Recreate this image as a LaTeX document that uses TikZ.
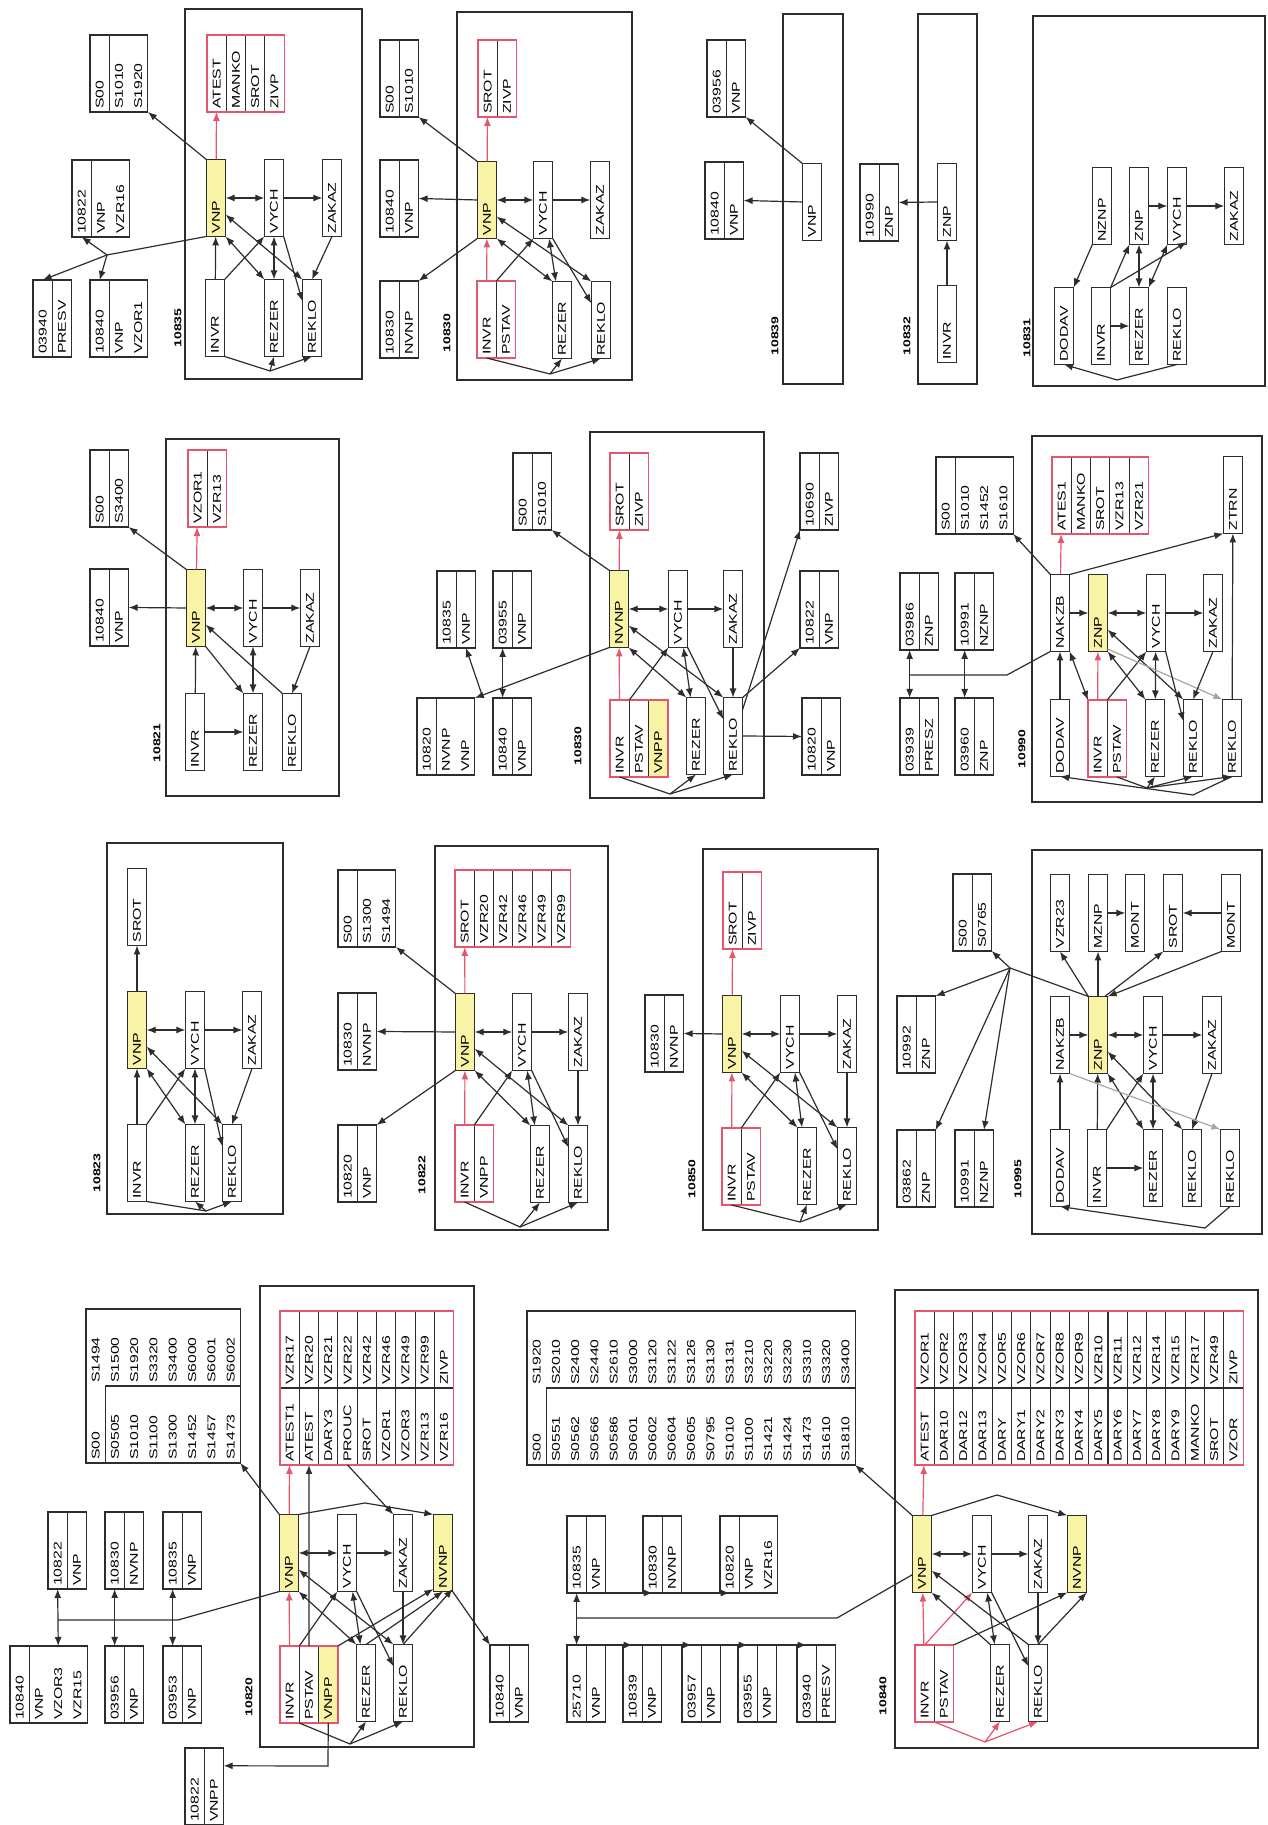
\documentclass[tikz,border=0pt]{standalone}
\usepackage{fontspec}
\setmainfont{Liberation Sans}[FakeStretch=1.4]
\usetikzlibrary{arrows.meta,positioning}

\definecolor{ink}{RGB}{45,45,45}
\definecolor{rd}{RGB}{230,84,110}
\definecolor{hl}{RGB}{248,243,165}
\newcommand\boxfont{\fontsize{11.3}{19.3}\selectfont}
\newcommand\numfont{\fontsize{10}{12}\selectfont\bfseries}

\tikzset{
  cell/.style={draw=ink, line width=1.1pt, fill=white, outer sep=0pt, inner xsep=3pt,
    inner ysep=0pt, text width=71pt, minimum height=19.3pt, align=left, font=\boxfont},
  yel/.style={cell, fill=hl},
  nrows/.style={minimum height=#1*19.3pt},
  redframe/.style={draw=rd, line width=1.2pt},
  stab/.style={draw=ink, line width=1.1pt, outer sep=0pt, inner sep=0pt},
  txt/.style={inner xsep=3pt, inner ysep=0pt, text width=71pt, align=left, font=\boxfont},
  pane/.style={draw=ink, line width=2.8pt},
  num/.style={font=\numfont, inner sep=0pt},
  ln/.style={draw=ink, line width=1.2pt},
  rln/.style={draw=rd, line width=1.2pt},
  arr/.style={ln, -{Latex[length=9pt,width=7pt]}},
  darr/.style={ln, {Latex[length=9pt,width=7pt]}-{Latex[length=9pt,width=7pt]}},
  rarr/.style={rln, -{Latex[length=9pt,width=7pt]}},
}

\begin{document}
\begin{tikzpicture}[x=1pt,y=1pt]
\fill[white] (0,0) rectangle (1268,1825);
\useasboundingbox (0,0) rectangle (1268,1825);
\begin{scope}[rotate=90,transform shape]

% ===== 10835 =====
\draw[pane] (1446,-362) rectangle (1816,-185);
\node[num] (l35) at (1497,-178) {10835};
\node[yel]  (vnp35)  at (1627,-216) {VNP};
\node[cell] (vych35) at (1627,-274) {VYCH};
\node[cell] (zak35)  at (1627,-332) {ZAKAZ};
\node[cell] (invr35) at (1507,-215) {INVR};
\node[cell] (rez35)  at (1507,-274) {REZER};
\node[cell] (rek35)  at (1507,-312) {REKLO};
\foreach \w [count=\i] in {ATEST,MANKO,SROT,ZIVP}
  \node[cell] (t35-\i) at (1751.5,{-207-(\i-0.5)*19.3}) {\w};
\draw[redframe] (t35-1.north west) rectangle (t35-4.south east);
\node[cell,anchor=north west] (s35) at (1713,-90) {S00};
\node[cell,nrows=2,below=0pt of s35] (s35-b) {S1010\\S1920};
\node[cell,anchor=north west] (r35a) at (1588,-72) {10822};
\node[cell,nrows=2,below=0pt of r35a] (r35a-b) {VNP\\VZR16};
\node[cell,anchor=north west] (r35b) at (1468,-33) {03940};
\node[cell,below=0pt of r35b] (r35b-b) {PRESV};
\node[cell,anchor=north west] (r35c) at (1468,-90) {10840};
\node[cell,nrows=2,below=0pt of r35c] (r35c-b) {VNP\\VZOR1};
\coordinate (j35) at (1570,-107);
\coordinate (f35) at (1454,-270);
\draw[rarr] (vnp35) -- (t35-1);
\draw[arr] (vnp35.north east) -- (s35-b.south west);
\draw[arr] (vnp35.north west) -- (j35) -- (r35b.east);
\draw[arr] (j35) -- (r35a.west);
\draw[arr] (j35) -- (r35c.east);
\draw[darr] (vnp35) -- (vych35);
\draw[arr] (vych35) -- (zak35);
\draw[arr] (invr35) -- (vnp35);
\draw[arr] (invr35.south east) -- (vych35.north west);
\draw[darr] (vnp35.south west) -- (rez35.north east);
\draw[darr] (rez35) -- (vych35);
\draw[darr] (vnp35.-150) -- (rek35.north east);
\draw[arr] (vych35.south west) -- (rek35.30);
\draw[arr] (zak35.west) -- (rek35.east);
\draw[ln] (invr35.south west) -- (f35);
\draw[arr] (f35) -- (rez35.west);
\draw[arr] (f35) -- (rek35.west);

% ===== 10821 =====
\draw[pane] (1029,-339) rectangle (1386,-166);
\node[num] (l21) at (1082,-157) {10821};
\node[yel]  (vnp21)  at (1217,-196) {VNP};
\node[cell] (vych21) at (1217,-253) {VYCH};
\node[cell] (zak21)  at (1217,-310) {ZAKAZ};
\node[cell] (invr21) at (1093,-195) {INVR};
\node[cell] (rez21)  at (1093,-253) {REZER};
\node[cell] (rek21)  at (1093,-292) {REKLO};
\foreach \w [count=\i] in {VZOR1,VZR13}
  \node[cell] (t21-\i) at (1336.5,{-188-(\i-0.5)*19.3}) {\w};
\draw[redframe] (t21-1.north west) rectangle (t21-2.south east);
\node[cell,anchor=north west] (s21) at (1298,-90) {S00};
\node[cell,below=0pt of s21] (s21-b) {S3400};
\node[cell,anchor=north west] (r21a) at (1179,-90) {10840};
\node[cell,below=0pt of r21a] (r21a-b) {VNP};
\draw[rarr] (vnp21) -- (t21-1);
\draw[arr] (vnp21.north) -- (r21a-b.south);
\draw[arr] (vnp21.north east) -- (s21-b.south west);
\draw[darr] (vnp21) -- (vych21);
\draw[arr] (vych21) -- (zak21);
\draw[arr] (invr21) -- (vnp21);
\draw[arr] (invr21) -- (rez21);
\draw[arr] (vnp21.south west) -- (rez21.north east);
\draw[arr] (rek21.north east) -- (vnp21.-150);
\draw[darr] (rez21) -- (vych21);
\draw[arr] (zak21.west) -- (rek21.east);

% ===== 10823 =====
\draw[pane] (611,-283) rectangle (982,-107);
\node[num] (l23) at (652,-97) {10823};
\node[cell] (srot23) at (918,-137) {SROT};
\node[yel]  (vnp23)  at (795,-137) {VNP};
\node[cell] (vych23) at (795,-195) {VYCH};
\node[cell] (zak23)  at (795,-252) {ZAKAZ};
\node[cell] (invr23) at (662,-137) {INVR};
\node[cell] (rez23)  at (662,-195) {REZER};
\node[cell] (rek23)  at (662,-232) {REKLO};
\coordinate (f23) at (614,-206);
\draw[arr] (vnp23) -- (srot23);
\draw[darr] (vnp23) -- (vych23);
\draw[arr] (vych23) -- (zak23);
\draw[arr] (invr23) -- (vnp23);
\draw[arr] (invr23.south east) -- (vych23.north west);
\draw[darr] (vnp23.south west) -- (rez23.north east);
\draw[darr] (rez23) -- (vych23);
\draw[darr] (vnp23.-150) -- (rek23.north east);
\draw[arr] (vych23.south west) -- (rek23.30);
\draw[arr] (zak23.west) -- (rek23.east);
\draw[ln] (invr23.south west) -- (f23);
\draw[arr] (f23) -- (rez23.west);
\draw[arr] (f23) -- (rek23.west);

% ===== 10820 =====
\draw[pane] (78,-474) rectangle (539,-260);
\node[num] (l20) at (128,-249) {10820};
\foreach \w [count=\i] in {ATEST1,ATEST,DARY3,PROUC,SROT,VZOR1,VZOR3,VZR13,VZR16}
  \node[cell] (t20l-\i) at (398.5,{-280-(\i-0.5)*19.3}) {\w};
\foreach \w [count=\i] in {VZR17,VZR20,VZR21,VZR22,VZR42,VZR46,VZR49,VZR99,ZIVP}
  \node[cell] (t20r-\i) at (475.5,{-280-(\i-0.5)*19.3}) {\w};
\draw[redframe] (t20l-1.north west) rectangle (t20r-9.south east);
\node[yel]  (vnp20)  at (272,-289) {VNP};
\node[cell] (vych20) at (272,-347) {VYCH};
\node[cell] (zak20)  at (272,-403) {ZAKAZ};
\node[yel]  (nvnp20) at (272,-443) {NVNP};
\node[cell,anchor=north west] (invr20) at (102,-280) {INVR};
\node[cell,below=0pt of invr20] (pstav20) {PSTAV};
\node[yel,below=0pt of pstav20] (vnpp20) {VNPP};
\draw[redframe] (invr20.north west) rectangle (vnpp20.south east);
\node[cell] (rez20) at (142,-366) {REZER};
\node[cell] (rek20) at (142,-403) {REKLO};
\node[stab,minimum width=154pt,minimum height=154.4pt,anchor=north west] (s20) at (362,-86) {};
\foreach \w [count=\i] in {S00,S0505,S1010,S1100,S1300,S1452,S1457,S1473}
  \node[txt] (s20l-\i) at (400.5,{-86-(\i-0.5)*19.3}) {\w};
\foreach \w [count=\i] in {S1494,S1500,S1920,S3320,S3400,S6000,S6001,S6002}
  \node[txt] (s20r-\i) at (477.5,{-86-(\i-0.5)*19.3}) {\w};
\draw[ln] (362,-105.3) -- (439,-105.3) -- (439,-240.4);
\node[cell,anchor=north west] (r20a) at (102,-10) {10840};
\node[cell,nrows=3,below=0pt of r20a] (r20a-b) {VNP\\VZOR3\\VZR15};
\node[cell,anchor=north west] (r20b) at (236,-48) {10822};
\node[cell,below=0pt of r20b] (r20b-b) {VNP};
\node[cell,anchor=north west] (r20c) at (236,-105) {10830};
\node[cell,below=0pt of r20c] (r20c-b) {NVNP};
\node[cell,anchor=north west] (r20d) at (236,-163) {10835};
\node[cell,below=0pt of r20d] (r20d-b) {VNP};
\node[cell,anchor=north west] (r20e) at (102,-105) {03956};
\node[cell,below=0pt of r20e] (r20e-b) {VNP};
\node[cell,anchor=north west] (r20f) at (102,-163) {03953};
\node[cell,below=0pt of r20f] (r20f-b) {VNP};
\node[cell,anchor=north west] (r20g) at (0,-185) {10822};
\node[cell,below=0pt of r20g] (r20g-b) {VNPP};
\node[cell,anchor=north west] (r20h) at (103,-490) {10840};
\node[cell,below=0pt of r20h] (r20h-b) {VNP};
\coordinate (b20a) at (205,-58);
\coordinate (b20b) at (205,-178);
\coordinate (c20) at (59,-328);
\coordinate (p20) at (322,-365);
\coordinate (f20) at (81,-350);
\draw[rarr] (invr20) -- (vnp20);
\draw[rarr] (vnp20) -- (t20l-1);
\draw[arr] (vnp20.north east) -- (s20.south west);
\draw[ln] (vnp20.north west) -- (b20b) -- (b20a);
\draw[darr] (r20a-b.east) -- (r20b.west);
\draw[darr] (r20e.east) -- (r20c.west);
\draw[darr] (r20f.east) -- (r20d.west);
\draw[darr] (vnp20) -- (vych20);
\draw[arr] (vych20) -- (zak20);
\draw[arr] (invr20.south east) -- (vych20.north west);
\draw[darr] (vnp20.south west) -- (rez20.north east);
\draw[darr] (vnp20.-150) -- (rek20.north east);
\draw[darr] (rez20) -- (vych20);
\draw[arr] (vych20.south west) -- (rek20.30);
\draw[arr] (zak20) -- (rek20);
\draw[arr] (vnpp20.south east) -- (nvnp20.165);
\draw[arr] (rez20.east) -- (nvnp20.west);
\draw[arr] (rek20.east) -- (nvnp20.-165);
\draw[arr] (vnp20.south east) -- (p20) -- (nvnp20.north east);
\draw[arr] (t20l-4.west) -- (zak20.north east);
\draw[arr] (pstav20.east) -- (t20l-2.west);
\draw[arr] (nvnp20.south west) -- (r20h.north east);
\draw[arr] (vnpp20.west) -- (c20) -- (r20g-b.-25);
\draw[ln] (invr20.south west) -- (f20);
\draw[arr] (f20) -- (rez20.west);
\draw[arr] (f20) -- (rek20.west);

% ===== 10822 =====
\draw[pane] (595,-608) rectangle (979,-435);
\node[num] (l22) at (650,-422) {10822};
\foreach \w [count=\i] in {SROT,VZR20,VZR42,VZR46,VZR49,VZR99}
  \node[cell] (t22-\i) at (916.5,{-455-(\i-0.5)*19.3}) {\w};
\draw[redframe] (t22-1.north west) rectangle (t22-6.south east);
\node[yel]  (vnp22)  at (793,-465) {VNP};
\node[cell] (vych22) at (793,-522) {VYCH};
\node[cell] (zak22)  at (793,-578) {ZAKAZ};
\node[cell,anchor=north west] (invr22) at (623,-455) {INVR};
\node[cell,below=0pt of invr22] (vnpp22) {VNPP};
\draw[redframe] (invr22.north west) rectangle (vnpp22.south east);
\node[cell] (rez22) at (661,-540) {REZER};
\node[cell] (rek22) at (661,-578) {REKLO};
\node[cell,anchor=north west] (s22) at (878,-338) {S00};
\node[cell,nrows=2,below=0pt of s22] (s22-b) {S1300\\S1494};
\node[cell,anchor=north west] (r22a) at (755,-338) {10830};
\node[cell,below=0pt of r22a] (r22a-b) {NVNP};
\node[cell,anchor=north west] (r22b) at (623,-338) {10820};
\node[cell,below=0pt of r22b] (r22b-b) {VNP};
\coordinate (f22) at (598,-520);
\draw[rarr] (invr22) -- (vnp22);
\draw[rarr] (vnp22) -- (t22-1);
\draw[arr] (vnp22.north) -- (r22a-b.south);
\draw[arr] (vnp22.north east) -- (s22-b.south west);
\draw[arr] (vnp22.north west) -- (r22b-b.south east);
\draw[darr] (vnp22) -- (vych22);
\draw[arr] (vych22) -- (zak22);
\draw[arr] (invr22.south east) -- (vych22.north west);
\draw[darr] (vnp22.south west) -- (rez22.north east);
\draw[darr] (rez22) -- (vych22);
\draw[darr] (vnp22.-150) -- (rek22.north east);
\draw[arr] (vych22.south west) -- (rek22.30);
\draw[arr] (zak22) -- (rek22);
\draw[ln] (invr22.west) -- (f22);
\draw[arr] (f22) -- (rez22.west);
\draw[arr] (f22) -- (rek22.west);

% ===== 10830 (top) =====
\draw[pane] (1445,-632) rectangle (1813,-457);
\node[num] (l30) at (1492,-447) {10830};
\foreach \w [count=\i] in {SROT,ZIVP}
  \node[cell] (t30-\i) at (1746.5,{-478-(\i-0.5)*19.3}) {\w};
\draw[redframe] (t30-1.north west) rectangle (t30-2.south east);
\node[yel]  (vnp30)  at (1625,-487) {VNP};
\node[cell] (vych30) at (1625,-543) {VYCH};
\node[cell] (zak30)  at (1625,-600) {ZAKAZ};
\node[cell,anchor=north west] (invr30) at (1467,-477) {INVR};
\node[cell,below=0pt of invr30] (pstav30) {PSTAV};
\draw[redframe] (invr30.north west) rectangle (pstav30.south east);
\node[cell] (rez30) at (1505,-562) {REZER};
\node[cell] (rek30) at (1505,-601) {REKLO};
\node[cell,anchor=north west] (s30) at (1708,-380) {S00};
\node[cell,below=0pt of s30] (s30-b) {S1010};
\node[cell,anchor=north west] (r30a) at (1588,-380) {10840};
\node[cell,below=0pt of r30a] (r30a-b) {VNP};
\node[cell,anchor=north west] (r30b) at (1467,-380) {10830};
\node[cell,below=0pt of r30b] (r30b-b) {NVNP};
\coordinate (f30) at (1451,-550);
\draw[rarr] (invr30) -- (vnp30);
\draw[rarr] (vnp30) -- (t30-1);
\draw[arr] (vnp30.north east) -- (s30-b.south west);
\draw[arr] (vnp30.north) -- (r30a-b.south);
\draw[arr] (vnp30.north west) -- (r30b-b.south east);
\draw[darr] (vnp30) -- (vych30);
\draw[arr] (vych30) -- (zak30);
\draw[arr] (invr30.south east) -- (vych30.north west);
\draw[darr] (vnp30.south west) -- (rez30.north east);
\draw[darr] (rez30) -- (vych30);
\draw[darr] (vnp30.-150) -- (rek30.north east);
\draw[arr] (vych30.south west) -- (rek30.30);
\draw[ln] (invr30.west) -- (f30);
\draw[arr] (f30) -- (rez30.west);
\draw[arr] (f30) -- (rek30.west);

% ===== 10830 (middle) =====
\draw[pane] (1027,-764) rectangle (1393,-590);
\node[num] (l30b) at (1079,-578) {10830};
\foreach \w [count=\i] in {SROT,ZIVP}
  \node[cell] (t30b-\i) at (1333.5,{-610-(\i-0.5)*19.3}) {\w};
\draw[redframe] (t30b-1.north west) rectangle (t30b-2.south east);
\node[yel]  (nvnp30b) at (1216,-619) {NVNP};
\node[cell] (vych30b) at (1216,-678) {VYCH};
\node[cell] (zak30b)  at (1216,-733) {ZAKAZ};
\node[cell,anchor=north west] (invr30b) at (1048,-610) {INVR};
\node[cell,below=0pt of invr30b] (pstav30b) {PSTAV};
\node[yel,below=0pt of pstav30b] (vnpp30b) {VNPP};
\draw[redframe] (invr30b.north west) rectangle (vnpp30b.south east);
\node[cell] (rez30b) at (1089,-696) {REZER};
\node[cell] (rek30b) at (1089,-733) {REKLO};
\node[cell,anchor=north west] (s30b) at (1295,-513) {S00};
\node[cell,below=0pt of s30b] (s30b-b) {S1010};
\node[cell,anchor=north west] (r30ba) at (1177,-437) {10835};
\node[cell,below=0pt of r30ba] (r30ba-b) {VNP};
\node[cell,anchor=north west] (r30bb) at (1177,-493) {03955};
\node[cell,below=0pt of r30bb] (r30bb-b) {VNP};
\node[cell,anchor=north west] (r30bc) at (1050,-417) {10820};
\node[cell,nrows=2,below=0pt of r30bc] (r30bc-b) {NVNP\\VNP};
\node[cell,anchor=north west] (r30bd) at (1050,-493) {10840};
\node[cell,below=0pt of r30bd] (r30bd-b) {VNP};
\node[cell,anchor=north west] (r30be) at (1050,-802) {10820};
\node[cell,below=0pt of r30be] (r30be-b) {VNP};
\node[cell,anchor=north west] (r30bf) at (1177,-800) {10822};
\node[cell,below=0pt of r30bf] (r30bf-b) {VNP};
\node[cell,anchor=north west] (r30bg) at (1295,-800) {10690};
\node[cell,below=0pt of r30bg] (r30bg-b) {ZIVP};
\coordinate (j30b) at (1130,-482);
\coordinate (f30b) at (1031,-670);
\draw[rarr] (invr30b) -- (nvnp30b);
\draw[rarr] (nvnp30b) -- (t30b-1);
\draw[arr] (nvnp30b.north east) -- (s30b-b.south west);
\draw[arr] (nvnp30b.north west) -- (r30bc-b.south east);
\draw[arr] (j30b) -- (r30ba-b.west);
\draw[darr] (r30bd.east) -- (r30bb.west);
\draw[darr] (nvnp30b) -- (vych30b);
\draw[arr] (vych30b) -- (zak30b);
\draw[arr] (invr30b.south east) -- (vych30b.north west);
\draw[darr] (nvnp30b.south west) -- (rez30b.north east);
\draw[darr] (rez30b) -- (vych30b);
\draw[darr] (nvnp30b.-150) -- (rek30b.north east);
\draw[arr] (vych30b.south west) -- (rek30b.30);
\draw[arr] (zak30b) -- (rek30b);
\draw[ln] (invr30b.west) -- (f30b);
\draw[arr] (f30b) -- (rez30b.west);
\draw[arr] (f30b) -- (rek30b.west);
\draw[arr] (rek30b.south) -- (r30be.north);
\draw[arr] (rek30b.south east) -- (r30bf.north west);
\draw[arr] (rek30b.-20) -- (r30bg.north west);

% ===== 10850 =====
\draw[pane] (595,-878) rectangle (976,-703);
\node[num] (l50) at (646,-692) {10850};
\foreach \w [count=\i] in {SROT,ZIVP}
  \node[cell] (t50-\i) at (914.5,{-723-(\i-0.5)*19.3}) {\w};
\draw[redframe] (t50-1.north west) rectangle (t50-2.south east);
\node[yel]  (vnp50)  at (791,-732) {VNP};
\node[cell] (vych50) at (791,-790) {VYCH};
\node[cell] (zak50)  at (791,-847) {ZAKAZ};
\node[cell,anchor=north west] (invr50) at (620,-722) {INVR};
\node[cell,below=0pt of invr50] (pstav50) {PSTAV};
\draw[redframe] (invr50.north west) rectangle (pstav50.south east);
\node[cell] (rez50) at (659,-807) {REZER};
\node[cell] (rek50) at (659,-847) {REKLO};
\node[cell,anchor=north west] (r50a) at (753,-645) {10830};
\node[cell,below=0pt of r50a] (r50a-b) {NVNP};
\coordinate (f50) at (603,-800);
\draw[rarr] (invr50) -- (vnp50);
\draw[rarr] (vnp50) -- (t50-1);
\draw[arr] (vnp50.north) -- (r50a-b.south);
\draw[darr] (vnp50) -- (vych50);
\draw[arr] (vych50) -- (zak50);
\draw[arr] (invr50.south east) -- (vych50.north west);
\draw[darr] (vnp50.south west) -- (rez50.north east);
\draw[darr] (rez50) -- (vych50);
\draw[darr] (vnp50.-150) -- (rek50.north east);
\draw[arr] (vych50.south west) -- (rek50.30);
\draw[arr] (zak50) -- (rek50);
\draw[ln] (invr50.west) -- (f50);
\draw[arr] (f50) -- (rez50.west);
\draw[arr] (f50) -- (rek50.west);

% ===== 10840 =====
\draw[pane] (77,-1258) rectangle (535,-895);
\node[num] (l40) at (129,-883) {10840};
\foreach \w [count=\i] in {ATEST,DAR10,DAR12,DAR13,DARY,DARY1,DARY2,DARY3,DARY4,DARY5,DARY6,DARY7,DARY8,DARY9,MANKO,SROT,VZOR}
  \node[cell] (t40l-\i) at (398.5,{-915-(\i-0.5)*19.3}) {\w};
\foreach \w [count=\i] in {VZOR1,VZOR2,VZOR3,VZOR4,VZOR5,VZOR6,VZOR7,VZOR8,VZOR9,VZR10,VZR11,VZR12,VZR14,VZR15,VZR17,VZR49,ZIVP}
  \node[cell] (t40r-\i) at (475.5,{-915-(\i-0.5)*19.3}) {\w};
\draw[redframe] (t40l-1.north west) rectangle (t40r-17.south east);
\node[yel]  (vnp40)  at (271,-922) {VNP};
\node[cell] (vych40) at (271,-982) {VYCH};
\node[cell] (zak40)  at (271,-1038) {ZAKAZ};
\node[yel]  (nvnp40) at (271,-1077) {NVNP};
\node[cell,anchor=north west] (invr40) at (103,-915) {INVR};
\node[cell,below=0pt of invr40] (pstav40) {PSTAV};
\draw[redframe] (invr40.north west) rectangle (pstav40.south east);
\node[cell] (rez40) at (142,-1000) {REZER};
\node[cell] (rek40) at (142,-1038) {REKLO};
\node[stab,minimum width=154pt,minimum height=328.1pt,anchor=north west] (s40) at (360,-527) {};
\foreach \w [count=\i] in {S00,S0551,S0562,S0566,S0586,S0601,S0602,S0604,S0605,S0795,S1010,S1100,S1421,S1424,S1473,S1610,S1810}
  \node[txt] (s40l-\i) at (398.5,{-527-(\i-0.5)*19.3}) {\w};
\foreach \w [count=\i] in {S1920,S2010,S2400,S2440,S2610,S3000,S3120,S3122,S3126,S3130,S3131,S3210,S3220,S3230,S3310,S3320,S3400}
  \node[txt] (s40r-\i) at (475.5,{-527-(\i-0.5)*19.3}) {\w};
\draw[ln] (360,-546.3) -- (437,-546.3) -- (437,-855.1);
\node[cell,anchor=north west] (r40a) at (232,-567) {10835};
\node[cell,below=0pt of r40a] (r40a-b) {VNP};
\node[cell,anchor=north west] (r40b) at (232,-643) {10830};
\node[cell,below=0pt of r40b] (r40b-b) {NVNP};
\node[cell,anchor=north west] (r40c) at (232,-720) {10820};
\node[cell,nrows=2,below=0pt of r40c] (r40c-b) {VNP\\VZR16};
\node[cell,anchor=north west] (r40d) at (103,-567) {25710};
\node[cell,below=0pt of r40d] (r40d-b) {VNP};
\node[cell,anchor=north west] (r40e) at (103,-623) {10839};
\node[cell,below=0pt of r40e] (r40e-b) {VNP};
\node[cell,anchor=north west] (r40f) at (103,-682) {03957};
\node[cell,below=0pt of r40f] (r40f-b) {VNP};
\node[cell,anchor=north west] (r40g) at (103,-738) {03955};
\node[cell,below=0pt of r40g] (r40g-b) {VNP};
\node[cell,anchor=north west] (r40h) at (103,-797) {03940};
\node[cell,below=0pt of r40h] (r40h-b) {PRESV};
\coordinate (b40a) at (207,-576.6);
\coordinate (b40b) at (207,-837);
\coordinate (p40) at (330,-997);
\coordinate (f40) at (83,-985);
\draw[ln] (vnp40.155) -- (b40b) -- (b40a);
\draw[darr] (r40d.east) -- (r40a.west);
\draw[arr] (r40b.west |- b40a) -- (r40b.west);
\draw[arr] (r40c.west |- b40a) -- (r40c.west);
\draw[arr] (r40e.east |- b40a) -- (r40e.east);
\draw[arr] (r40f.east |- b40a) -- (r40f.east);
\draw[arr] (r40g.east |- b40a) -- (r40g.east);
\draw[arr] (r40h.east |- b40a) -- (r40h.east);
\draw[arr] (vnp40.north east) -- (s40.south west);
\draw[rarr] (invr40) -- (vnp40);
\draw[rarr] (vnp40) -- (t40l-1);
\draw[rarr] (invr40.east) -- (vych40.north west);
\draw[darr] (vnp40) -- (vych40);
\draw[arr] (vych40) -- (zak40);
\draw[arr] (rez40.north east) -- (vnp40.south west);
\draw[arr] (rek40.north east) -- (vnp40.-150);
\draw[darr] (rez40) -- (vych40);
\draw[arr] (vych40.south west) -- (rek40.30);
\draw[arr] (zak40) -- (rek40);
\draw[arr] (pstav40.south east) -- (nvnp40.north west);
\draw[arr] (rek40.east) -- (nvnp40.south west);
\draw[arr] (vnp40.south east) -- (p40) -- (nvnp40.north east);
\draw[rln] (invr40.south west) -- (f40);
\draw[rarr] (f40) -- (rez40.west);
\draw[rarr] (f40) -- (rek40.west);

% ===== 10995 =====
\draw[pane] (591,-1262) rectangle (975,-1032);
\node[num] (l95) at (646,-1018) {10995};
\node[cell] (vzr95)   at (912,-1060) {VZR23};
\node[cell] (mznp95)  at (912,-1098) {MZNP};
\node[cell] (mont95)  at (912,-1135) {MONT};
\node[cell] (srot95)  at (912,-1173) {SROT};
\node[cell] (montb95) at (912,-1231) {MONT};
\node[cell] (nakzb95) at (790,-1060) {NAKZB};
\node[yel]  (znp95)   at (790,-1098) {ZNP};
\node[cell] (vych95)  at (790,-1153) {VYCH};
\node[cell] (zak95)   at (790,-1212) {ZAKAZ};
\node[cell] (dodav95) at (657,-1060) {DODAV};
\node[cell] (invr95)  at (657,-1097) {INVR};
\node[cell] (rez95)   at (657,-1153) {REZER};
\node[cell] (rek95)   at (657,-1192) {REKLO};
\node[cell] (rekb95)  at (657,-1230) {REKLO};
\node[cell,anchor=north west] (s95) at (874,-953) {S00};
\node[cell,below=0pt of s95] (s95-b) {S0765};
\node[cell,anchor=north west] (r95a) at (752,-897) {10992};
\node[cell,below=0pt of r95a] (r95a-b) {ZNP};
\node[cell,anchor=north west] (r95b) at (618,-897) {03862};
\node[cell,below=0pt of r95b] (r95b-b) {ZNP};
\node[cell,anchor=north west] (r95c) at (618,-955) {10991};
\node[cell,below=0pt of r95c] (r95c-b) {NZNP};
\coordinate (h95) at (857,-1010);
\coordinate (c95) at (597,-1205);
\draw[ln] (znp95.north east) -- (h95);
\draw[arr] (h95) -- (s95-b.south west);
\draw[arr] (h95) -- (r95a-b.south east);
\draw[arr] (h95) -- (r95b-b.south east);
\draw[arr] (h95) -- (r95c-b.east);
\draw[arr] (znp95.north east) -- (vzr95.west);
\draw[arr] (znp95.east) -- (mznp95.west);
\draw[arr] (mznp95.south) -- (mont95.north);
\draw[arr] (znp95.-10) -- (srot95.north west);
\draw[arr] (montb95.north) -- (srot95.south);
\draw[arr] (montb95.north west) -- (znp95.south east);
\draw[arr] (nakzb95) -- (znp95);
\draw[darr] (znp95) -- (vych95);
\draw[arr] (vych95) -- (zak95);
\draw[arr] (dodav95) -- (nakzb95);
\draw[arr] (invr95) -- (znp95);
\draw[arr] (invr95) -- (rez95);
\draw[arr] (invr95.south east) -- (vych95.north west);
\draw[darr] (znp95.south west) -- (rez95.north east);
\draw[darr] (rez95) -- (vych95);
\draw[darr] (znp95.-150) -- (rek95.north east);
\draw[arr] (zak95.west) -- (rek95.east);
\draw[arr,draw=gray!70] (nakzb95.south west) -- (rekb95.north east);
\draw[arr] (rekb95.west) -- (c95) -- (dodav95.west);

% ===== 10990 =====
\draw[pane] (1023,-1262) rectangle (1389,-1032);
\node[num] (l90) at (1076,-1022) {10990};
\foreach \w [count=\i] in {ATES1,MANKO,SROT,VZR13,VZR21}
  \node[cell] (t90-\i) at (1329.5,{-1052-(\i-0.5)*19.3}) {\w};
\draw[redframe] (t90-1.north west) rectangle (t90-5.south east);
\node[cell] (ztrn90)  at (1330,-1233) {ZTRN};
\node[cell] (nakzb90) at (1212,-1060) {NAKZB};
\node[yel]  (znp90)   at (1212,-1098) {ZNP};
\node[cell] (vych90)  at (1212,-1156) {VYCH};
\node[cell] (zak90)   at (1212,-1213) {ZAKAZ};
\node[cell] (dodav90) at (1087,-1060) {DODAV};
\node[cell,anchor=north west] (invr90) at (1048,-1088) {INVR};
\node[cell,below=0pt of invr90] (pstav90) {PSTAV};
\draw[redframe] (invr90.north west) rectangle (pstav90.south east);
\node[cell] (rez90)  at (1087,-1155) {REZER};
\node[cell] (rek90)  at (1087,-1193) {REKLO};
\node[cell] (rekb90) at (1087,-1232) {REKLO};
\node[cell,anchor=north west] (s90) at (1291,-936) {S00};
\node[cell,nrows=3,below=0pt of s90] (s90-b) {S1010\\S1452\\S1610};
\node[cell,anchor=north west] (r90a) at (1175,-900) {03986};
\node[cell,below=0pt of r90a] (r90a-b) {ZNP};
\node[cell,anchor=north west] (r90b) at (1175,-955) {10991};
\node[cell,below=0pt of r90b] (r90b-b) {NZNP};
\node[cell,anchor=north west] (r90c) at (1050,-900) {03939};
\node[cell,below=0pt of r90c] (r90c-b) {PRESZ};
\node[cell,anchor=north west] (r90d) at (1050,-955) {03960};
\node[cell,below=0pt of r90d] (r90d-b) {ZNP};
\coordinate (b90a) at (1150,-909.6);
\coordinate (b90b) at (1150,-1007);
\coordinate (f90) at (1037,-1147);
\coordinate (c90) at (1030,-1193);
\draw[ln] (nakzb90.north west) -- (b90b) -- (b90a);
\draw[darr] (r90c.east) -- (r90a.west);
\draw[darr] (r90d.east) -- (r90b.west);
\draw[rarr] (nakzb90) -- (t90-1);
\draw[arr] (nakzb90.north east) -- (s90-b.south west);
\draw[arr] (nakzb90.south east) -- (ztrn90.north west);
\draw[arr] (nakzb90) -- (znp90);
\draw[darr] (znp90) -- (vych90);
\draw[arr] (vych90) -- (zak90);
\draw[arr] (rekb90) -- (ztrn90);
\draw[arr] (dodav90) -- (nakzb90);
\draw[darr] (invr90.north east) -- (nakzb90.south west);
\draw[rarr] (invr90) -- (znp90);
\draw[arr] (invr90.south east) -- (vych90.north west);
\draw[darr] (znp90.south west) -- (rez90.north east);
\draw[darr] (rez90) -- (vych90);
\draw[darr] (znp90.-150) -- (rek90.north east);
\draw[arr,draw=gray!70] (znp90.-165) -- (rekb90.north east);
\draw[arr] (vych90.south west) -- (rek90.30);
\draw[arr] (zak90.west) -- (rek90.east);
\draw[ln] (pstav90.west) -- (f90);
\draw[arr] (f90) -- (rez90.west);
\draw[arr] (f90) -- (rek90.west);
\draw[arr] (f90) -- (rekb90.west);
\draw[arr] (rekb90.west) -- (c90) -- (dodav90.west);

% ===== 10839 =====
\draw[pane] (1441,-843) rectangle (1811,-783);
\node[num] (l39) at (1489,-775) {10839};
\node[cell] (vnp39) at (1623,-812) {VNP};
\node[cell,anchor=north west] (r39a) at (1586,-705) {10840};
\node[cell,below=0pt of r39a] (r39a-b) {VNP};
\node[cell,anchor=north west] (r39b) at (1708,-707) {03956};
\node[cell,below=0pt of r39b] (r39b-b) {VNP};
\draw[arr] (vnp39.north) -- (r39a-b.south);
\draw[arr] (vnp39.north east) -- (r39b-b.south west);

% ===== 10832 =====
\draw[pane] (1441,-977) rectangle (1811,-918);
\node[num] (l32) at (1489,-907) {10832};
\node[cell] (znp32)  at (1623,-947) {ZNP};
\node[cell] (invr32) at (1501,-947) {INVR};
\node[cell,anchor=north west] (r32a) at (1584,-860) {10990};
\node[cell,below=0pt of r32a] (r32a-b) {ZNP};
\draw[arr] (invr32) -- (znp32);
\draw[arr] (znp32.north) -- (r32a-b.south);

% ===== 10831 =====
\draw[pane] (1439,-1265) rectangle (1809,-1033);
\node[num] (l31) at (1487,-1027) {10831};
\node[cell] (nznp31)  at (1619,-1102) {NZNP};
\node[cell] (znp31)   at (1619,-1139) {ZNP};
\node[cell] (vych31)  at (1619,-1177) {VYCH};
\node[cell] (zak31)   at (1619,-1234) {ZAKAZ};
\node[cell] (dodav31) at (1499,-1064) {DODAV};
\node[cell] (invr31)  at (1499,-1101) {INVR};
\node[cell] (rez31)   at (1499,-1139) {REZER};
\node[cell] (rek31)   at (1499,-1177) {REKLO};
\coordinate (c31) at (1445,-1117);
\draw[arr] (nznp31.north west) -- (dodav31.south east);
\draw[arr] (znp31) -- (vych31);
\draw[arr] (vych31) -- (zak31);
\draw[arr] (invr31) -- (rez31);
\draw[arr] (invr31.south east) -- (znp31.north west);
\draw[arr] (invr31.south east) -- (vych31.-165);
\draw[darr] (rez31) -- (znp31);
\draw[darr] (rez31.south east) -- (vych31.north west);
\draw[arr] (rek31.west) -- (c31) -- (dodav31.west);

\end{scope}
\end{tikzpicture}
\end{document}
